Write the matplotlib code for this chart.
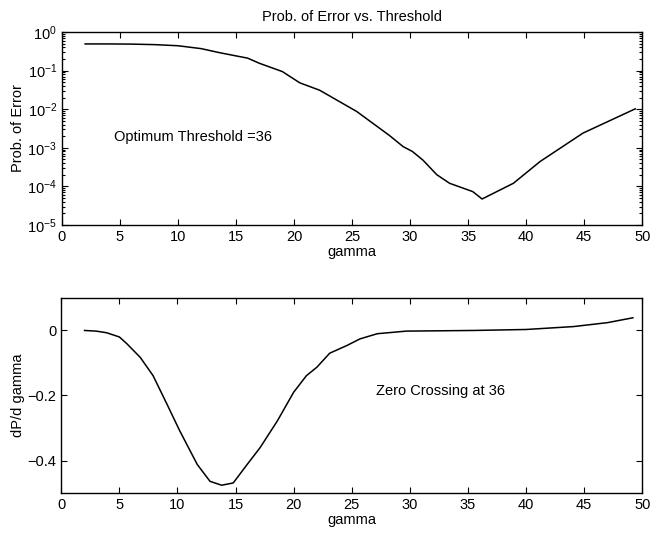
import matplotlib
matplotlib.use("Agg")
import matplotlib.pyplot as plt
from matplotlib.ticker import LogLocator, FixedLocator, NullFormatter

plt.rcParams['font.family'] = ['Liberation Sans', 'DejaVu Sans']
plt.rcParams['mathtext.fontset'] = 'custom'
plt.rcParams['mathtext.rm'] = 'Liberation Sans'
plt.rcParams['mathtext.it'] = 'Liberation Sans'

# Top panel: probability of error vs threshold
gamma_top = [2, 4, 6, 8, 10, 12, 13.6, 15, 16, 17, 19, 20.5, 22.2, 25.4, 28.2,
             29.4, 30.2, 31.1, 32.3, 33.4, 35.4, 36.2, 38.9, 41.2, 44.9, 49.4]
p_err = [0.49, 0.49, 0.485, 0.47, 0.44, 0.37, 0.29, 0.24, 0.21, 0.155, 0.094,
         0.048, 0.031, 0.0087, 0.0021, 0.00107, 0.0008, 0.00048, 0.0002,
         0.00012, 7.3e-5, 4.7e-5, 1.2e-4, 4.4e-4, 0.0024, 0.0102]

# Bottom panel: derivative
gamma_bot = [2, 3, 3.9, 5, 5.65, 6.8, 7.9, 9.1, 10.2, 11.7, 12.8, 13.8, 14.8,
             16.0, 17.1, 18.6, 20.0, 21.1, 22.0, 23.1, 24.6, 25.7, 27.2, 29.7,
             35.5, 40, 44.1, 47, 49.2]
dp = [0, -0.002, -0.007, -0.02, -0.041, -0.083, -0.139, -0.227, -0.309, -0.412,
      -0.464, -0.476, -0.469, -0.412, -0.361, -0.278, -0.19, -0.139, -0.113,
      -0.07, -0.046, -0.026, -0.01, -0.002, 0, 0.003, 0.012, 0.024, 0.039]

x_ticks = [0, 5, 10, 15, 20, 25, 30, 35, 40, 45, 50]
y_ticks_bot = [-0.4, -0.2, 0]

fig = plt.figure(figsize=(6.52, 5.33), dpi=100)
FS = 10.5

ax1 = fig.add_axes([0.095, 0.578, 0.89, 0.362])
ax1.plot(gamma_top, p_err, color='black', lw=1.1)
ax1.set_yscale('log')
ax1.set_xlim(0, 50)
ax1.set_ylim(1e-5, 1)
ax1.set_xticks(x_ticks)
ax1.yaxis.set_major_locator(FixedLocator([1e-5, 1e-4, 1e-3, 1e-2, 1e-1, 1]))
ax1.yaxis.set_minor_locator(LogLocator(base=10, subs=range(2, 10), numticks=20))
ax1.yaxis.set_minor_formatter(NullFormatter())
ax1.set_yticklabels([r'$10^{-5}$', r'$10^{-4}$', r'$10^{-3}$', r'$10^{-2}$',
                     r'$10^{-1}$', r'$10^{0}$'])
ax1.set_xlabel('gamma', fontsize=FS, labelpad=1)
ax1.set_ylabel('Prob. of Error', fontsize=FS, labelpad=2)
ax1.set_title('Prob. of Error vs. Threshold', fontsize=FS, pad=8)
ax1.text(4.5, 10**-2.72, 'Optimum Threshold =36', fontsize=FS, va='center', ha='left')

ax2 = fig.add_axes([0.094, 0.075, 0.891, 0.366])
ax2.plot(gamma_bot, dp, color='black', lw=1.1)
ax2.set_xlim(0, 50)
ax2.set_ylim(-0.5, 0.1)
ax2.set_xticks(x_ticks)
ax2.set_yticks(y_ticks_bot)
ax2.set_yticklabels(['\u22120.4', '\u22120.2', '0'])
ax2.set_xlabel('gamma', fontsize=FS, labelpad=1)
ax2.set_ylabel('dP/d gamma', fontsize=FS, labelpad=2)
ax2.text(27.1, -0.185, 'Zero Crossing at 36', fontsize=FS, va='center', ha='left')

for ax in (ax1, ax2):
    ax.tick_params(which='both', direction='in', top=True, right=True,
                   labelsize=FS, width=0.8)
    ax.tick_params(which='major', length=4)
    ax.tick_params(which='minor', length=2)
    for s in ax.spines.values():
        s.set_linewidth(1.0)

fig.savefig('out.png', dpi=100)
